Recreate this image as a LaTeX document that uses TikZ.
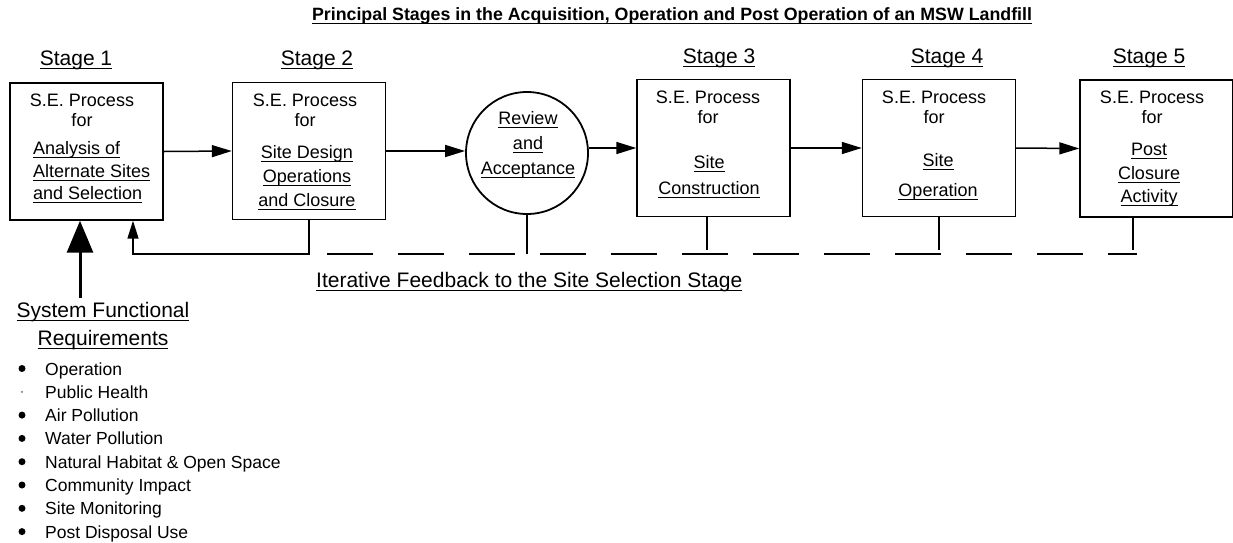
\documentclass[tikz,border=0pt]{standalone}
\usepackage{fontspec}
\setmainfont{Liberation Sans}
\usetikzlibrary{arrows.meta}
\newcommand{\ulx}[1]{\leavevmode\setbox0=\hbox{#1}\rlap{\rule[-0.2em]{\wd0}{1.1pt}}\box0}
\begin{document}
\begin{tikzpicture}[x=1pt,y=-1pt,
  box/.style={draw, line width=1.4pt, minimum width=153pt, minimum height=137pt, inner sep=0pt},
  rnd/.style={draw, circle, line width=1.8pt, minimum size=122pt, inner sep=0pt},
  head/.style={inner sep=0pt, anchor=base, align=center, font=\fontsize{18}{20}\selectfont},
  body/.style={inner sep=0pt, anchor=base, align=center, font=\fontsize{18}{#1}\selectfont},
  stagelbl/.style={inner sep=0pt, anchor=base, font=\fontsize{21}{24}\selectfont},
  flow/.style={line width=1.5pt, -{Triangle[length=20pt,width=12pt]}},
  fb/.style={line width=1.5pt, -{Triangle[length=18pt,width=11pt]}},
  big/.style={line width=3pt, -{Triangle[length=32pt,width=26pt]}},
  tick/.style={line width=1.5pt},
  dashline/.style={line width=1.8pt, dash pattern=on 46pt off 25pt},
  item/.style={inner sep=0pt, anchor=base west, font=\fontsize{17.5}{20}\selectfont},
  dot/.style={circle, fill=black, inner sep=0pt, minimum size=7pt}
]
\useasboundingbox (0,0) rectangle (1233,542);

% title
\node[inner sep=0pt, anchor=base, font=\bfseries\fontsize{17.8}{20}\selectfont] (title) at (672,20.5)
  {\ulx{Principal Stages in the Acquisition, Operation and Post Operation of an MSW Landfill}};

% stage labels
\node[stagelbl] (s1) at (76,65) {\ulx{Stage 1}};
\node[stagelbl] (s2) at (317,65) {\ulx{Stage 2}};
\node[stagelbl] (s3) at (719,63) {\ulx{Stage 3}};
\node[stagelbl] (s4) at (947,63) {\ulx{Stage 4}};
\node[stagelbl] (s5) at (1149,63) {\ulx{Stage 5}};

% boxes
\node[box] (b1) at (86.5,151.5) {};
\node[box] (b2) at (309,151) {};
\node[rnd] (rv) at (527,153) {};
\node[box] (b3) at (713.5,148) {};
\node[box] (b4) at (939,148) {};
\node[box] (b5) at (1156.5,148.5) {};

% box texts (base anchor = baseline of last line)
\node[head] (h1) at (82,126.5) {S.E. Process\\for};
\node[head] (h2) at (305,126.5) {S.E. Process\\for};
\node[head] (h3) at (708,123.5) {S.E. Process\\for};
\node[head] (h4) at (934,123.5) {S.E. Process\\for};
\node[head] (h5) at (1152,123.5) {S.E. Process\\for};

\node[body=22.5, anchor=base west, align=left] (t1) at (33,199.5)
  {\ulx{Analysis of}\\\ulx{Alternate Sites}\\\ulx{and Selection}};
\node[body=24] (t2) at (307,206.5)
  {\ulx{Site Design}\\\ulx{Operations}\\\ulx{and Closure}};
\node[body=25] (tr) at (528,174.5)
  {\ulx{Review}\\\ulx{and}\\\ulx{Acceptance}};
\node[body=26] (t3) at (709,194.5)
  {\ulx{Site}\\\ulx{Construction}};
\node[body=30] (t4) at (938,196.5)
  {\ulx{Site}\\\ulx{Operation}};
\node[body=23.5] (t5) at (1149,202.5)
  {\ulx{Post}\\\ulx{Closure}\\\ulx{Activity}};

% flow arrows
\draw[flow] (b1.east) -- (b2.west);
\draw[flow] (b2.east) -- (b2.east -| rv.west);
\draw[flow] (rv.east |- b3.west) -- (b3.west);
\draw[flow] (b3.east) -- (b4.west);
\draw[flow] (b4.east) -- (b5.west);

% feedback
\coordinate (fbc) at (133,254);
\coordinate (dl) at (327,254);
\coordinate (dr) at (1137,254);
\draw[fb] (b2.south) |- (fbc) -- (fbc |- b1.south);
\draw[dashline] (dl) -- (dr);
\draw[tick] (rv.south) -- (rv.south |- dl);
\draw[tick] ([xshift=-6.5pt]b3.south) -- ([xshift=-6.5pt]b3.south |- 0,250);
\draw[tick] (b4.south) -- (b4.south |- 0,250);
\draw[tick] ([xshift=-23.5pt]b5.south) -- ([xshift=-23.5pt]b5.south |- 0,250);
\node[inner sep=0pt, anchor=base west, font=\fontsize{21}{24}\selectfont] (itl) at (316,287)
  {\ulx{Iterative Feedback to the Site Selection Stage}};

% system functional requirements
\node[inner sep=0pt, anchor=base, align=center, font=\fontsize{21}{28}\selectfont] (sfr) at (103,345)
  {\ulx{System Functional}\\\ulx{Requirements}};
\coordinate (bigs) at (80,298);
\draw[big] (bigs) -- (bigs |- b1.south);

% bullet list
\foreach \t [count=\i from 0] in {Operation,Public Health,Air Pollution,Water Pollution,Natural Habitat \& Open Space,Community Impact,Site  Monitoring,Post Disposal Use}{
  \node[item] (it\i) at (45,375+23.3*\i) {\t};
}
\foreach \i in {0,2,3,4,5,6,7}{
  \node[dot] (d\i) at (22,368.5+23.3*\i) {};
}
\node[circle, fill=black!45, inner sep=0pt, minimum size=2.5pt] (d1) at (22,391.8) {};
\end{tikzpicture}
\end{document}
